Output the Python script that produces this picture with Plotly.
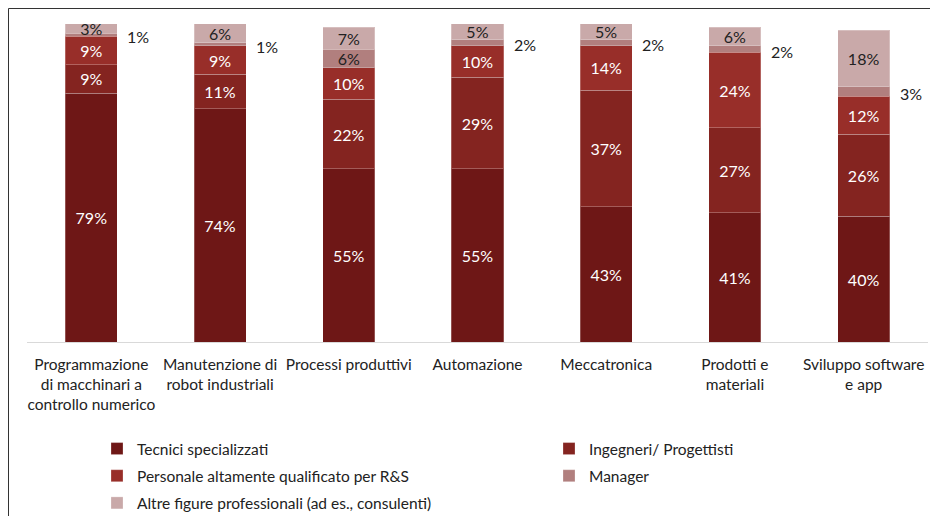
import plotly.graph_objects as go

categories = [
    "Programmazione<br>di macchinari a<br>controllo numerico",
    "Manutenzione di<br>robot industriali",
    "Processi produttivi",
    "Automazione",
    "Meccatronica",
    "Prodotti e<br>materiali",
    "Sviluppo software<br>e app",
]
tecnici = [79, 74, 55, 55, 43, 41, 40]
ingegneri = [9, 11, 22, 29, 37, 27, 26]
personale = [9, 9, 10, 10, 14, 24, 12]
manager = [1, 1, 6, 2, 2, 2, 3]
altre = [3, 6, 7, 5, 5, 6, 18]

series = [
    ("Tecnici specializzati", tecnici, "#6E1716", "white", "legend"),
    ("Ingegneri/ Progettisti", ingegneri, "#842420", "white", "legend2"),
    ("Personale altamente qualificato per R&S", personale, "#982E29", "white", "legend"),
    ("Manager", manager, "#B17F7E", "#222222", "legend2"),
    ("Altre figure professionali (ad es., consulenti)", altre, "#C9A9A9", "#222222", "legend"),
]

FONT = "Lato"
fig = go.Figure()
for i, (name, vals, color, tcolor, leg) in enumerate(series):
    if name == "Manager":
        texts = [f"{v}%" if v >= 5 else "" for v in vals]
    else:
        texts = [f"{v}%" for v in vals]
    fig.add_trace(go.Bar(
        x=categories, y=vals, name=name, legend=leg, legendgroup=f"g{i}",
        marker=dict(color=color, line=dict(color="rgba(255,255,255,0.25)", width=1)),
        text=texts, textposition="inside", insidetextanchor="middle",
        textfont=dict(color=tcolor, size=16, family=FONT),
        cliponaxis=False, hoverinfo="skip",
    ))

# outside labels for small Manager segments
base = [a + b + c for a, b, c in zip(tecnici, ingegneri, personale)]
for cat, b, m in zip(categories, base, manager):
    if m < 5:
        fig.add_annotation(x=cat, y=b + m / 2, text=f"{m}%", showarrow=False,
                           xanchor="left", xshift=34, yshift=-2,
                           font=dict(size=16, color="#222222", family=FONT))

# figure is placed at page offset (8, 8)
W, H = 930, 508
L, R, T, B = 19, 10, 14, 174
pw, ph = W - L - R, H - T - B
scale = 3.15  # px per percentage point
ytop = ph / scale
# outer frame
fig.add_shape(type="rect", xref="paper", yref="paper",
              x0=(0.5 - L) / pw, x1=1 + 40 / pw, y0=-(B + 40) / ph, y1=1 + (T - 0.5) / ph,
              line=dict(color="#333333", width=1), fillcolor="rgba(0,0,0,0)", layer="below")

leg_y = -(424 - (H - B)) / ph
leg_common = dict(orientation="v", yanchor="top", y=leg_y, xanchor="left",
                  traceorder="grouped", tracegroupgap=4, bgcolor="rgba(0,0,0,0)",
                  font=dict(size=15.5, family=FONT, color="#222222"))

fig.update_layout(
    width=W, height=H,
    margin=dict(l=L, r=R, t=T, b=B, autoexpand=False),
    barmode="stack", bargap=0.595,
    plot_bgcolor="white", paper_bgcolor="white",
    font=dict(family=FONT, size=15.5, color="#222222"),
    uniformtext=dict(minsize=14, mode="show"),
    showlegend=True,
    legend=dict(x=(89 - L) / pw, **leg_common),
    legend2=dict(x=(541 - L) / pw, **leg_common),
    xaxis=dict(showline=True, linecolor="#D9D9D9", linewidth=1, ticks="",
               tickfont=dict(size=15.5, family=FONT, color="#222222"),
               ticklabelstandoff=8, automargin=False),
    yaxis=dict(range=[0, ytop], visible=False, showgrid=False, automargin=False),
)

fig.write_html("out.html")
